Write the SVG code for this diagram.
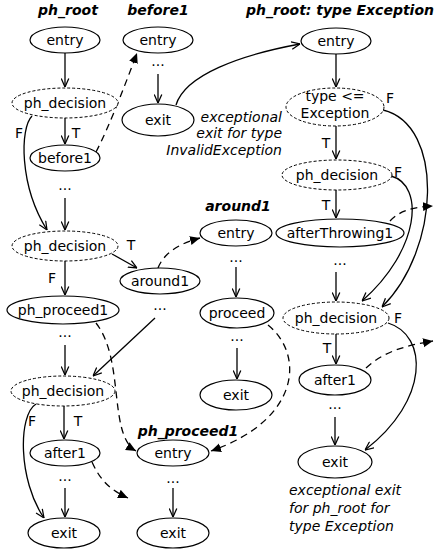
<svg xmlns="http://www.w3.org/2000/svg" width="435" height="554" viewBox="0 0 435 554">
<defs>
<marker id="open" viewBox="0 0 10 10" refX="10" refY="5" markerWidth="9" markerHeight="9" markerUnits="userSpaceOnUse" orient="auto">
<path d="M0.5,0.8 L10,5 L0.5,9.2" fill="none" stroke="#000" stroke-width="1.4"/>
</marker>
<marker id="fill" viewBox="0 0 10 10" refX="10" refY="5" markerWidth="10" markerHeight="10" markerUnits="userSpaceOnUse" orient="auto">
<path d="M0,0.5 L10,5 L0,9.5 z" fill="#000"/>
</marker>
<style>
text{font-family:"DejaVu Sans","Liberation Sans",sans-serif;font-size:14px;fill:#000}
.t{text-anchor:middle}
.ttl{font-weight:bold;font-style:italic;text-anchor:middle}
.it{font-style:italic}
.n{fill:#fff;stroke:#000;stroke-width:1.2}
.d{fill:#fff;stroke:#000;stroke-width:1;stroke-dasharray:3 2}
.c{fill:none;stroke:#000;stroke-width:1.3;marker-end:url(#open)}
.dc{fill:none;stroke:#000;stroke-width:1.3;stroke-dasharray:7 5;marker-end:url(#fill)}
</style>
</defs>
<rect width="435" height="554" fill="#fff"/>

<g id="titles">
<text class="ttl" x="68" y="15">ph_root</text>
<text class="ttl" x="158" y="15">before1</text>
<text class="ttl" x="340" y="15">ph_root: type Exception</text>
<text class="ttl" x="238" y="211">around1</text>
<text class="ttl" x="188" y="436">ph_proceed1</text>
</g>

<g id="connectors">
<path class="c" d="M65,53 L65,87"/>
<path class="c" d="M65,118 L65,144"/>
<path class="c" d="M32,116 C20,128 19,185 47,230"/>
<path class="c" d="M65,198 L65,230"/>
<path class="c" d="M112,254 L137,268"/>
<path class="c" d="M65,261 L65,295"/>
<path class="c" d="M65,345 L65,375"/>
<path class="c" d="M155,318 L93,376"/>
<path class="c" d="M64,406 L64,439"/>
<path class="c" d="M36,404 C18,415 18,480 44,518"/>
<path class="c" d="M65,488 L65,517"/>
<path class="c" d="M158,74 L158,103"/>
<path class="c" d="M176,105 C185,75 240,55 300,44"/>
<path class="c" d="M236,267 L236,297"/>
<path class="c" d="M237,348 L237,379"/>
<path class="c" d="M173,488 L173,517"/>
<path class="c" d="M336,54 L336,87"/>
<path class="c" d="M336,126 L336,159"/>
<path class="c" d="M336,190 L336,218"/>
<path class="c" d="M336,272 L336,301"/>
<path class="c" d="M391,176 C425,185 420,250 362,301"/>
<path class="c" d="M383,110 C445,125 440,250 382,307"/>
<path class="c" d="M336,334 L336,364"/>
<path class="c" d="M335,417 L335,445"/>
<path class="c" d="M388,323 C428,335 430,400 365,450"/>
<path class="dc" d="M96,152 C110,125 125,85 137,53"/>
<path class="dc" d="M158,268 C165,250 185,242 200,238"/>
<path class="dc" d="M96,323 C125,360 108,435 136,451"/>
<path class="dc" d="M92,462 C100,480 110,490 128,498"/>
<path class="dc" d="M268,325 C305,355 300,420 211,451"/>
<path class="dc" d="M390,221 C400,210 415,207 433,206"/>
<path class="dc" d="M366,368 C385,350 410,345 433,341"/>
</g>

<g id="labels">
<text class="t" x="19" y="138">F</text>
<text class="t" x="76" y="138">T</text>
<text class="t" x="131" y="250">T</text>
<text class="t" x="52" y="283">F</text>
<text class="t" x="32" y="426">F</text>
<text class="t" x="78" y="426">T</text>
<text class="t" x="390" y="103">F</text>
<text class="t" x="326" y="148">T</text>
<text class="t" x="398" y="177">F</text>
<text class="t" x="326" y="210">T</text>
<text class="t" x="398" y="323">F</text>
<text class="t" x="327" y="353">T</text>
<text class="t" x="65" y="190">...</text>
<text class="t" x="65" y="337">...</text>
<text class="t" x="65" y="481">...</text>
<text class="t" x="158" y="66">...</text>
<text class="t" x="160" y="310">...</text>
<text class="t" x="236" y="262">...</text>
<text class="t" x="237" y="341">...</text>
<text class="t" x="173" y="483">...</text>
<text class="t" x="340" y="265">...</text>
<text class="t" x="335" y="409">...</text>
</g>

<g id="annot1">
<text class="it" text-anchor="end" x="282" y="122">exceptional</text>
<text class="it" text-anchor="end" x="282" y="138">exit for type</text>
<text class="it" text-anchor="end" x="282" y="155">InvalidException</text>
</g>
<g id="annot2">
<text class="it" x="289" y="495">exceptional exit</text>
<text class="it" x="289" y="513">for ph_root for</text>
<text class="it" x="289" y="531">type Exception</text>
</g>

<g id="root_entry"><ellipse class="n" cx="65" cy="40" rx="35" ry="13"/><text class="t" x="65" y="45">entry</text></g>
<g id="root_dec1"><ellipse class="d" cx="65" cy="103" rx="53" ry="15"/><text class="t" x="65" y="108">ph_decision</text></g>
<g id="root_before1"><ellipse class="n" cx="65" cy="158" rx="35" ry="13"/><text class="t" x="65" y="163">before1</text></g>
<g id="root_dec2"><ellipse class="d" cx="65" cy="246" rx="53" ry="15"/><text class="t" x="65" y="251">ph_decision</text></g>
<g id="root_around1"><ellipse class="n" cx="160" cy="281" rx="40" ry="13"/><text class="t" x="160" y="286">around1</text></g>
<g id="root_proceed1"><ellipse class="n" cx="63" cy="310" rx="56" ry="14"/><text class="t" x="63" y="315">ph_proceed1</text></g>
<g id="root_dec3"><ellipse class="d" cx="63" cy="391" rx="52" ry="15"/><text class="t" x="63" y="396">ph_decision</text></g>
<g id="root_after1"><ellipse class="n" cx="65" cy="453" rx="35" ry="13"/><text class="t" x="65" y="458">after1</text></g>
<g id="root_exit"><ellipse class="n" cx="64" cy="533" rx="36" ry="15"/><text class="t" x="64" y="538">exit</text></g>

<g id="before1_entry"><ellipse class="n" cx="158" cy="40" rx="35" ry="13"/><text class="t" x="158" y="45">entry</text></g>
<g id="before1_exit"><ellipse class="n" cx="158" cy="120" rx="36" ry="16"/><text class="t" x="158" y="125">exit</text></g>

<g id="around1_entry"><ellipse class="n" cx="236" cy="233" rx="36" ry="13"/><text class="t" x="236" y="238">entry</text></g>
<g id="around1_proceed"><ellipse class="n" cx="237" cy="313" rx="37" ry="15"/><text class="t" x="237" y="318">proceed</text></g>
<g id="around1_exit"><ellipse class="n" cx="236" cy="395" rx="36" ry="15"/><text class="t" x="236" y="400">exit</text></g>

<g id="proceed1_entry"><ellipse class="n" cx="173" cy="453" rx="36" ry="13"/><text class="t" x="173" y="458">entry</text></g>
<g id="proceed1_exit"><ellipse class="n" cx="173" cy="533" rx="36" ry="15"/><text class="t" x="173" y="538">exit</text></g>

<g id="exc_entry"><ellipse class="n" cx="336" cy="41" rx="35" ry="13"/><text class="t" x="336" y="46">entry</text></g>
<g id="exc_type"><ellipse class="d" cx="335" cy="107" rx="49" ry="19"/><text class="t" x="335" y="101">type &lt;=</text><text class="t" x="335" y="118">Exception</text></g>
<g id="exc_dec1"><ellipse class="d" cx="337" cy="175" rx="55" ry="15"/><text class="t" x="337" y="180">ph_decision</text></g>
<g id="exc_afterThrowing1"><ellipse class="n" cx="340" cy="233" rx="64" ry="14"/><text class="t" x="340" y="238">afterThrowing1</text></g>
<g id="exc_dec2"><ellipse class="d" cx="336" cy="318" rx="53" ry="16"/><text class="t" x="336" y="323">ph_decision</text></g>
<g id="exc_after1"><ellipse class="n" cx="335" cy="380" rx="36" ry="15"/><text class="t" x="335" y="385">after1</text></g>
<g id="exc_exit"><ellipse class="n" cx="335" cy="462" rx="37" ry="16"/><text class="t" x="335" y="467">exit</text></g>
</svg>
